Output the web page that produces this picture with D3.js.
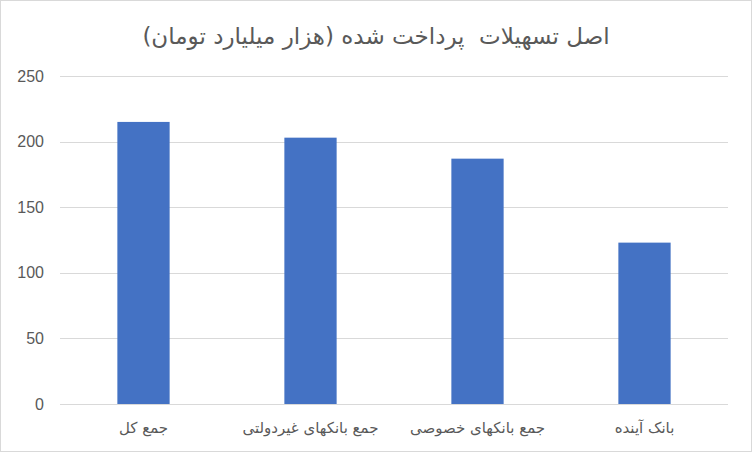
<!DOCTYPE html>
<html>
<head>
<meta charset="utf-8">
<script src="https://cdn.jsdelivr.net/npm/d3@7"></script>
<style>
  html, body { margin: 0; padding: 0; background: #fff; }
  svg { display: block; font-family: "Liberation Sans", Arial, "DejaVu Sans", sans-serif; }
</style>
</head>
<body>
<svg id="chart" width="752" height="452"></svg>
<script>
// Chart data
const categories = ["جمع کل", "جمع بانکهای غیردولتی", "جمع بانکهای خصوصی", "بانک آینده"];
const values = [215, 203, 187, 123];
const yTicks = [0, 50, 100, 150, 200, 250];
const title = "اصل تسهیلات  پرداخت شده (هزار میلیارد تومان)";

const W = 752, H = 452;
const margin = { top: 76, right: 24, bottom: 48, left: 60 };

const svg = d3.select("#chart");

// Outer chart border
svg.append("rect")
    .attr("x", 0.5).attr("y", 0.5)
    .attr("width", W - 1).attr("height", H - 1)
    .attr("fill", "#fff")
    .attr("stroke", "#d9d9d9");

// Scales
const x = d3.scaleBand()
    .domain(categories)
    .range([margin.left, W - margin.right])
    .paddingInner(0.687)
    .paddingOuter(0.3435);

const y = d3.scaleLinear()
    .domain([0, 250])
    .range([H - margin.bottom, margin.top]);

// Gridlines
svg.append("g")
    .selectAll("line")
    .data(yTicks)
    .join("line")
    .attr("x1", margin.left)
    .attr("x2", W - margin.right)
    .attr("y1", d => Math.round(y(d)) + 0.5)
    .attr("y2", d => Math.round(y(d)) + 0.5)
    .attr("stroke", "#d9d9d9")
    .attr("stroke-width", 1);

// Bars
svg.append("g")
    .selectAll("rect")
    .data(values)
    .join("rect")
    .attr("x", (d, i) => x(categories[i]))
    .attr("width", x.bandwidth())
    .attr("y", d => y(d))
    .attr("height", d => y(0) - y(d))
    .attr("fill", "#4472c4");

// Y axis labels
const yAxis = svg.append("g")
    .attr("transform", `translate(${margin.left - 16},0)`)
    .call(d3.axisLeft(y).tickValues(yTicks).tickSize(0).tickPadding(0));
yAxis.select(".domain").remove();
yAxis.selectAll("text")
    .attr("fill", "#595959")
    .style("font-size", "16px")
    .style("font-family", "Liberation Sans, Arial, sans-serif");

// X axis labels
const xAxis = svg.append("g")
    .attr("transform", `translate(0,${y(0)})`)
    .call(d3.axisBottom(x).tickSize(0).tickPadding(18));
xAxis.select(".domain").remove();
xAxis.selectAll("text")
    .attr("fill", "#595959")
    .attr("direction", "rtl")
    .style("font-size", "15px")
    .style("font-family", "DejaVu Sans, sans-serif");

// Title (keeps the double space)
svg.append("text")
    .attr("x", W / 2)
    .attr("y", 44)
    .attr("text-anchor", "middle")
    .attr("direction", "rtl")
    .attr("fill", "#595959")
    .style("white-space", "pre")
    .style("font-size", "23px")
    .style("font-family", "DejaVu Sans, sans-serif")
    .text(title);
</script>
</body>
</html>
